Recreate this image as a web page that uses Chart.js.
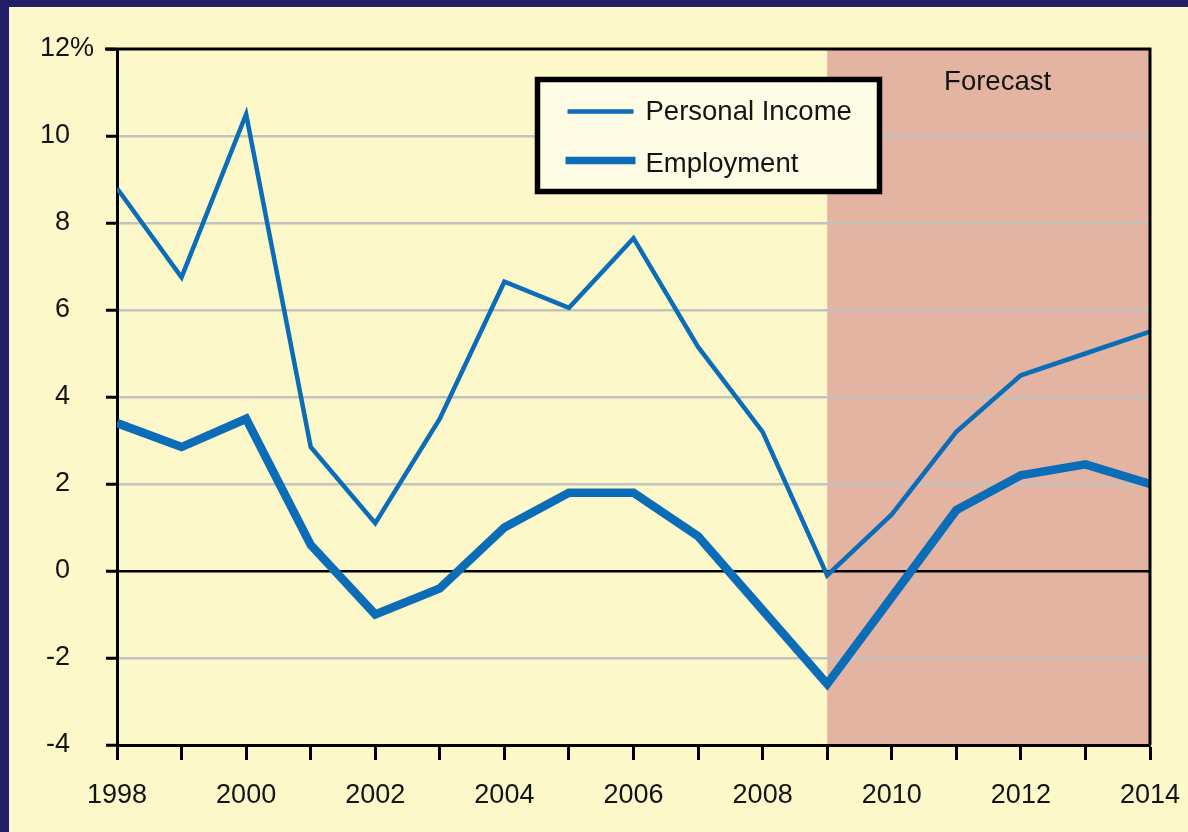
<!DOCTYPE html>
<html>
<head>
<meta charset="utf-8">
<script src="https://cdn.jsdelivr.net/npm/chart.js@4/dist/chart.umd.min.js"></script>
<style>
  html, body { margin: 0; padding: 0; }
  body { width: 1188px; height: 832px; background: #221f68; overflow: hidden; position: relative; }
  #panel { position: absolute; left: 9px; top: 7px; width: 1179px; height: 825px; background: #fdf8c9; overflow: hidden; }
  /* canvas is larger than the panel so the tick-label overflow lands outside it */
  canvas { display: block; position: absolute; left: 0; top: -18px; }
</style>
</head>
<body>
<div id="panel"><canvas id="growthChart" width="1201" height="843"></canvas></div>
<script>
// Data
const years = [1998, 1999, 2000, 2001, 2002, 2003, 2004, 2005, 2006, 2007, 2008, 2009, 2010, 2011, 2012, 2013, 2014];
const personalIncome = [8.8, 6.75, 10.5, 2.85, 1.1, 3.5, 6.65, 6.05, 7.65, 5.15, 3.2, -0.1, 1.3, 3.2, 4.5, 5.0, 5.5];
const employment = [3.4, 2.85, 3.5, 0.6, -1.0, -0.4, 1.0, 1.8, 1.8, 0.8, -0.9, -2.6, -0.6, 1.4, 2.2, 2.45, 2.0];
const forecastStart = 2009;
const forecastLabel = "Forecast";
const seriesNames = ["Personal Income", "Employment"];

const FONT = '"Liberation Sans", Arial, Helvetica, sans-serif';
const TEXT = "#141414";
const BLUE = "#0b6db7";

function toPoints(vals) {
    return years.map((yr, i) => ({ x: yr, y: vals[i] }));
}

// Salmon forecast band, under grid and lines
const forecastBand = {
    id: "forecastBand",
    beforeDraw(chart) {
        const { ctx, chartArea, scales } = chart;
        const x0 = scales.x.getPixelForValue(forecastStart);
        ctx.save();
        ctx.fillStyle = "#e4b4a2";
        ctx.fillRect(x0, chartArea.top, chartArea.right - x0, chartArea.bottom - chartArea.top);
        ctx.font = "27.5px " + FONT;
        ctx.fillStyle = TEXT;
        ctx.textAlign = "center";
        ctx.textBaseline = "middle";
        ctx.fillText(forecastLabel, (x0 + chartArea.right) / 2 + 9, chartArea.top + 33);
        ctx.restore();
    }
};

// Top/right frame, the hanging "%" and the boxed legend
const decorations = {
    id: "decorations",
    afterDraw(chart) {
        const { ctx, chartArea, scales } = chart;
        ctx.save();
        ctx.strokeStyle = "#000";
        ctx.lineWidth = 3;
        ctx.beginPath();
        ctx.moveTo(chartArea.left - 12, chartArea.top);
        ctx.lineTo(chartArea.right, chartArea.top);
        ctx.lineTo(chartArea.right, chartArea.bottom);
        ctx.stroke();

        ctx.font = "27px " + FONT;
        ctx.fillStyle = TEXT;
        ctx.textAlign = "left";
        ctx.textBaseline = "middle";
        ctx.fillText("%", chartArea.left - 47, scales.y.getPixelForValue(12));

        // legend
        const bx = chartArea.left + 420.5, by = chartArea.top + 30.5;
        ctx.fillStyle = "#fffce6";
        ctx.fillRect(bx, by, 342, 112);
        ctx.lineWidth = 5.5;
        ctx.strokeRect(bx, by, 342, 112);

        ctx.strokeStyle = BLUE;
        ctx.lineWidth = 4.5;
        ctx.beginPath();
        ctx.moveTo(bx + 30, by + 32);
        ctx.lineTo(bx + 96, by + 32);
        ctx.stroke();
        ctx.lineWidth = 7.5;
        ctx.beginPath();
        ctx.moveTo(bx + 28, by + 81);
        ctx.lineTo(bx + 98, by + 81);
        ctx.stroke();

        ctx.font = "27.5px " + FONT;
        ctx.fillStyle = TEXT;
        ctx.textBaseline = "alphabetic";
        ctx.fillText(seriesNames[0], bx + 108, by + 40);
        ctx.fillText(seriesNames[1], bx + 108, by + 92);
        ctx.restore();
    }
};

new Chart(document.getElementById("growthChart").getContext("2d"), {
    type: "line",
    data: {
        datasets: [
            {
                label: seriesNames[0],
                data: toPoints(personalIncome),
                borderColor: BLUE,
                borderWidth: 4.5,
                borderJoinStyle: "miter",
                pointRadius: 0,
                tension: 0
            },
            {
                label: seriesNames[1],
                data: toPoints(employment),
                borderColor: BLUE,
                borderWidth: 8.5,
                borderJoinStyle: "miter",
                pointRadius: 0,
                tension: 0
            }
        ]
    },
    options: {
        responsive: false,
        animation: false,
        devicePixelRatio: 1,
        layout: { padding: { left: 0, top: 60, right: 60, bottom: 0 } },
        plugins: {
            legend: { display: false },
            tooltip: { enabled: false }
        },
        scales: {
            x: {
                type: "linear",
                min: 1998,
                max: 2014,
                afterFit(scale) { scale.height = 87; },
                border: { display: true, color: "#000", width: 3 },
                grid: { drawOnChartArea: false, drawTicks: true, tickLength: 15, tickColor: "#000", tickWidth: 3 },
                ticks: {
                    stepSize: 1,
                    autoSkip: false,
                    maxRotation: 0,
                    padding: 19,
                    color: TEXT,
                    font: { family: FONT, size: 27 },
                    callback: v => (v % 2 === 0 ? String(v) : "")
                }
            },
            y: {
                min: -4,
                max: 12,
                afterFit(scale) { scale.width = 108; },
                border: { display: true, color: "#000", width: 3 },
                grid: {
                    color: c => (c.tick.value === 0 ? "#000" : (c.tick.value === 12 || c.tick.value === -4 ? "rgba(0,0,0,0)" : "#c4c2bc")),
                    lineWidth: 2.5,
                    drawTicks: true,
                    tickLength: 11,
                    tickColor: "#000",
                    tickWidth: 3
                },
                ticks: {
                    stepSize: 2,
                    padding: 36,
                    color: TEXT,
                    font: { family: FONT, size: 27 },
                    callback: v => String(v)
                }
            }
        }
    },
    plugins: [forecastBand, decorations]
});
</script>
</body>
</html>
